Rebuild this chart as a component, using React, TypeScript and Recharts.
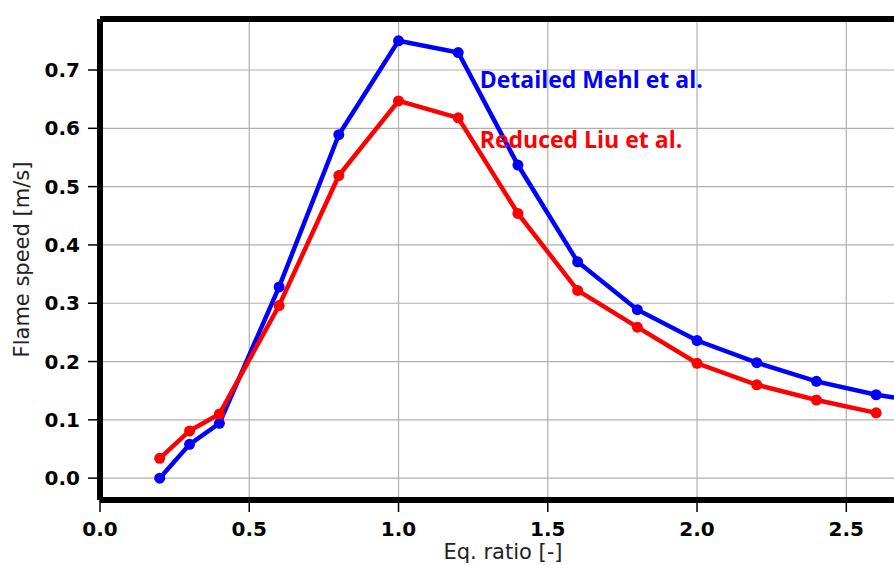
import React from "react";
import {
  LineChart,
  Line,
  XAxis,
  YAxis,
  CartesianGrid,
  ReferenceLine,
  ReferenceDot,
  Label,
} from "recharts";

// equivalence ratios and flame speeds [m/s]
const eqRatio = [0.2, 0.3, 0.4, 0.6, 0.8, 1.0, 1.2, 1.4, 1.6, 1.8, 2.0, 2.2, 2.4, 2.6, 2.8];
const mehlDetailed = [0.0, 0.058, 0.094, 0.328, 0.589, 0.75, 0.73, 0.537, 0.371, 0.289, 0.236, 0.198, 0.166, 0.143, 0.127];
const liuReduced = [0.034, 0.081, 0.11, 0.296, 0.519, 0.647, 0.618, 0.454, 0.322, 0.259, 0.197, 0.16, 0.134, 0.112, null];

const xTicks = [0, 0.5, 1.0, 1.5, 2.0, 2.5];
const yTicks = [0, 0.1, 0.2, 0.3, 0.4, 0.5, 0.6, 0.7];

const data = eqRatio.map((phi, i) => ({
  phi,
  mehl: mehlDetailed[i],
  liu: liuReduced[i],
}));

const tickFont = {
  fontFamily: "DejaVu Sans",
  fontWeight: "bold" as const,
  fontSize: 20,
  fill: "#000",
};

const labelFont = { fontFamily: "DejaVu Sans", fontSize: 21, fill: "#222" };

const noteStyle = (color: string) => ({
  fontFamily: "Open Sans",
  fontWeight: 700,
  fontSize: 23,
  fill: color,
});

export default function App() {
  return (
    <div
      style={{
        position: "absolute",
        left: 0,
        top: 0,
        width: 894,
        height: 565,
        overflow: "hidden",
        background: "#fff",
      }}
    >
      <LineChart
        width={910}
        height={565}
        data={data}
        margin={{ top: 19, right: 4, bottom: 0, left: 0 }}
      >
        <CartesianGrid stroke="#b0b0b0" strokeWidth={1.2} />
        <XAxis
          dataKey="phi"
          type="number"
          domain={[0, 2.7]}
          allowDataOverflow
          ticks={xTicks}
          tickFormatter={(v: number) => v.toFixed(1)}
          height={65}
          tick={tickFont}
          tickSize={12}
          tickMargin={10}
          tickLine={{ stroke: "#000", strokeWidth: 1.5 }}
          axisLine={{ stroke: "#000", strokeWidth: 6 }}
        >
          <Label
            content={({ viewBox }: any) => (
              <text
                x={viewBox.x + viewBox.width / 2}
                y={559}
                textAnchor="middle"
                style={labelFont}
              >
                Eq. ratio [-]
              </text>
            )}
          />
        </XAxis>
        <YAxis
          type="number"
          domain={[-0.0375, 0.7875]}
          ticks={yTicks}
          tickFormatter={(v: number) => v.toFixed(1)}
          width={100}
          tick={tickFont}
          tickSize={12}
          tickMargin={8}
          tickLine={{ stroke: "#000", strokeWidth: 1.5 }}
          axisLine={{ stroke: "#000", strokeWidth: 6 }}
        >
          <Label
            content={({ viewBox }: any) => {
              const cy = viewBox.y + viewBox.height / 2;
              return (
                <text
                  x={29}
                  y={cy}
                  textAnchor="middle"
                  transform={`rotate(-90 29 ${cy})`}
                  style={labelFont}
                >
                  Flame speed [m/s]
                </text>
              );
            }}
          />
        </YAxis>
        <ReferenceLine y={0.7875} stroke="#000" strokeWidth={6} />
        <Line
          dataKey="mehl"
          stroke="#0000ff"
          strokeWidth={4.5}
          dot={{ r: 5.5, fill: "#0000ff", stroke: "none" }}
          isAnimationActive={false}
        />
        <Line
          dataKey="liu"
          stroke="#ff0000"
          strokeWidth={4.5}
          dot={{ r: 5.5, fill: "#ff0000", stroke: "none" }}
          isAnimationActive={false}
        />
        <ReferenceDot
          x={1.272}
          y={0.669}
          r={0}
          stroke="none"
          label={({ viewBox }: any) => (
            <text x={viewBox.x} y={viewBox.y} style={noteStyle("#0000ff")}>
              Detailed Mehl et al.
            </text>
          )}
        />
        <ReferenceDot
          x={1.272}
          y={0.566}
          r={0}
          stroke="none"
          label={({ viewBox }: any) => (
            <text x={viewBox.x} y={viewBox.y} style={noteStyle("#ff0000")}>
              Reduced Liu et al.
            </text>
          )}
        />
      </LineChart>
    </div>
  );
}
